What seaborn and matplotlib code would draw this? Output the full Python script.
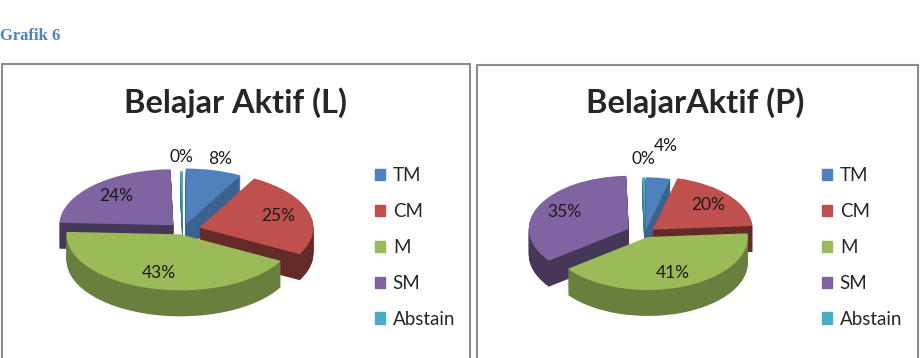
import matplotlib
matplotlib.use("Agg")
import matplotlib.pyplot as plt
import matplotlib.colors as mcolors
from matplotlib.patches import Rectangle
import seaborn as sns
import numpy as np

categories = ["TM", "CM", "M", "SM", "Abstain"]
left_values = [8, 25, 43, 24, 0.4]
right_values = [4, 20, 41, 35, 0.4]
left_title = "Belajar Aktif (L)"
right_title = "BelajarAktif (P)"
fig_label = "Grafik 6"

colors = ["#4F81BD", "#C0504D", "#9BBB59", "#8064A2", "#4BACC6"]
side_shade = [0.75, 0.52, 0.68, 0.55, 0.7]

sns.set_theme(style="white")
plt.rcParams["font.family"] = ["Lato", "DejaVu Sans"]

W, H = 924, 358
fig = plt.figure(figsize=(W / 100, H / 100), dpi=100)


def darken(c, f):
    r, g, b = mcolors.to_rgb(c)
    return (r * f, g * f, b * f)


def pie_axes(cx, cy, rx, ry, depth):
    # axes where one data unit is rx px wide and ry px tall, origin at (cx, cy) from top-left
    xlo, xhi = -1.6, 1.6
    ylo, yhi = -1.6 - depth, 1.9
    ax = fig.add_axes([(cx + xlo * rx) / W, 1 - (cy - ylo * ry) / H,
                       (xhi - xlo) * rx / W, (yhi - ylo) * ry / H])
    return ax, (xlo, xhi, ylo, yhi)


def draw_pie(cx, cy, rx, ry, depth_px, values, explode, out_r):
    depth = depth_px / ry
    ax, lims = pie_axes(cx, cy, rx, ry, depth)
    side = [darken(c, f) for c, f in zip(colors, side_shade)]
    # side walls: stack of darker pies shifted down
    for dz in np.linspace(depth, depth / 25, 25):
        ax.pie(values, explode=explode, colors=side, startangle=90, counterclock=False,
               center=(0, -dz), wedgeprops=dict(linewidth=0))
    wedges, _, autotexts = ax.pie(values, explode=explode, colors=colors, startangle=90,
                                  counterclock=False, autopct="%.0f%%", pctdistance=0.72,
                                  wedgeprops=dict(linewidth=0),
                                  textprops=dict(fontsize=12.5, color="#1a1a1a"))
    pct = np.array(values) / sum(values) * 100
    for w, t, p, r in zip(wedges, autotexts, pct, out_r):
        if p < 10:
            a = np.deg2rad((w.theta1 + w.theta2) / 2)
            t.set_position((r * np.cos(a), r * np.sin(a)))
    ax.set_aspect("auto")
    ax.set_xlim(lims[0], lims[1])
    ax.set_ylim(lims[2], lims[3])
    ax.axis("off")
    return wedges


fig.text(0, 1 - 36 / H, fig_label, family="Liberation Serif", weight="bold",
         color="#4F81BD", fontsize=12, va="center", ha="left")

# panel frames
fig.patches.append(Rectangle((2 / W, -0.1), 468 / W, (H - 64) / H + 0.1, transform=fig.transFigure,
                             fill=False, edgecolor="#8c8c8c", lw=1.5))
fig.patches.append(Rectangle((477 / W, -0.1), 441 / W, (H - 65) / H + 0.1, transform=fig.transFigure,
                             fill=False, edgecolor="#8c8c8c", lw=1.5))

fig.text(236 / W, 1 - 103 / H, left_title, weight="bold", fontsize=23.5, ha="center", va="center")
fig.text(695 / W, 1 - 103 / H, right_title, weight="bold", fontsize=23.5, ha="center", va="center")

draw_pie(183, 230, 114, 56, 26, left_values, [0.1, 0.15, 0.08, 0.12, 0.05],
         [1.3, 1.3, 1.3, 1.3, 1.3])
draw_pie(645, 233, 100, 53, 26, right_values, [0.05, 0.1, 0.08, 0.18, 0.05],
         [1.65, 1.3, 1.3, 1.3, 1.4])

for x0 in (375, 822):
    handles = [Rectangle((0, 0), 1, 1, color=c) for c in colors]
    fig.legend(handles, categories, loc="upper left", bbox_to_anchor=(x0 / W, 1 - 167 / H),
               frameon=False, fontsize=13.5, handlelength=0.55, handleheight=0.55,
               handletextpad=0.4, labelspacing=1.01, borderpad=0, borderaxespad=0)

fig.savefig("out.png", dpi=100)
